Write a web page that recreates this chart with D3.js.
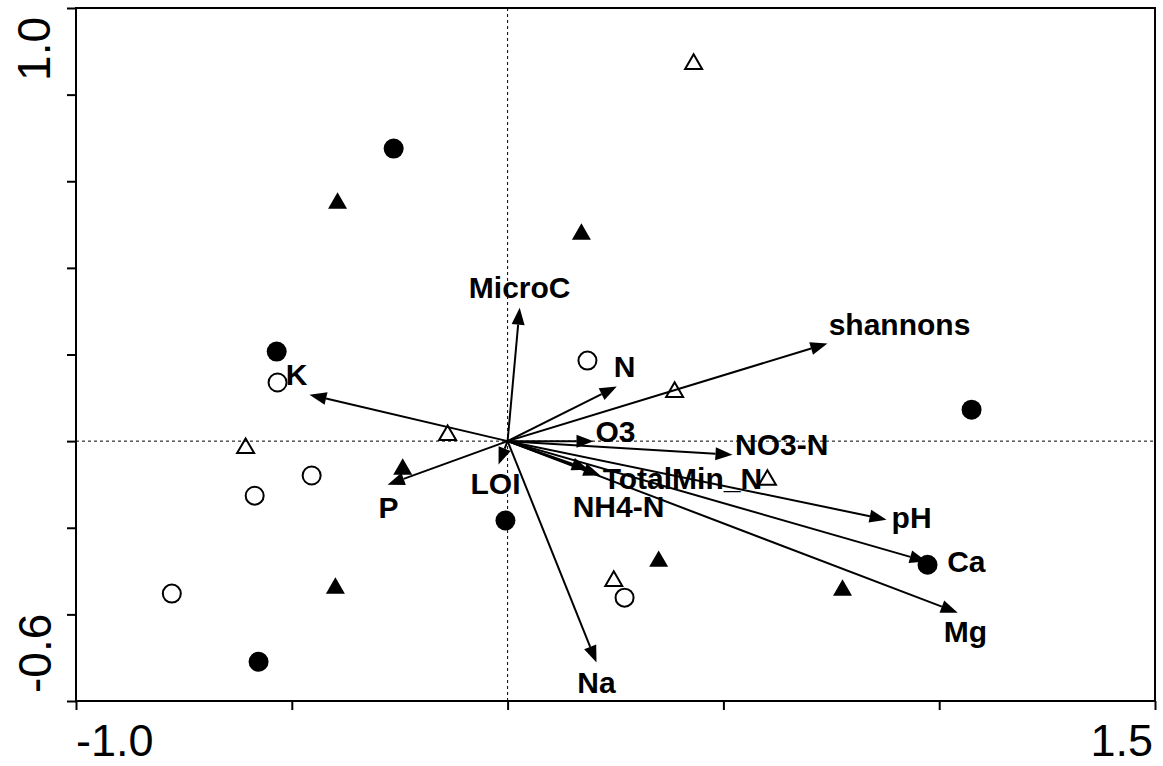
<!DOCTYPE html>
<html>
<head>
<meta charset="utf-8">
<script src="https://cdn.jsdelivr.net/npm/d3@7"></script>
<style>
  body { margin: 0; background: #fff; }
  svg { display: block; }
</style>
</head>
<body>
<div id="chart"></div>
<script>
// ordination biplot: site scores + environmental arrows

const width = 1163;
const height = 766;
const margin = {left: 76, right: 8, top: 8, bottom: 65};

// axis ticks and the two end labels on each axis
const xTickValues = [-1, -0.5, 0, 0.5, 1, 1.5];
const yTickValues = [-0.9, -0.6, -0.3, 0, 0.3, 0.6, 0.9, 1.2, 1.5];
const xEndLabels = ["-1.0", "1.5"];
const yEndLabels = ["-0.6", "1.0"];

// site scores (type: fc = filled circle, oc = open circle, ft = filled triangle, ot = open triangle)
const siteType = ["fc", "fc", "fc", "fc", "fc", "fc",
                  "oc", "oc", "oc", "oc", "oc", "oc",
                  "ft", "ft", "ft", "ft", "ft", "ft",
                  "ot", "ot", "ot", "ot", "ot", "ot"];
const siteX = [-0.264, -0.535, 1.075, -0.005, 0.973, -0.577,
                0.185, -0.533, -0.454, -0.586, -0.778, 0.271,
               -0.394, 0.171, -0.243, -0.399, 0.350, 0.776,
                0.431, 0.387, -0.139, -0.607, 0.602, 0.246];
const siteY = [1.013, 0.310, 0.109, -0.275, -0.428, -0.764,
               0.279, 0.203, -0.119, -0.189, -0.528, -0.542,
               0.833, 0.726, -0.088, -0.500, -0.407, -0.507,
               1.314, 0.178, 0.029, -0.016, -0.126, -0.476];

// environmental vectors (arrow tips) and where their names sit
const envNames = ["MicroC", "shannons", "N", "K", "O3", "NO3-N", "TotalMin_N",
                  "NH4-N", "LOI", "P", "pH", "Ca", "Mg", "Na"];
const envX = [0.028, 0.741, 0.253, -0.459, 0.199, 0.521, 0.215,
              0.188, -0.021, -0.278, 0.878, 0.971, 1.043, 0.206];
const envY = [0.462, 0.338, 0.189, 0.161, 0.0, -0.047, -0.119,
              -0.099, -0.081, -0.151, -0.272, -0.417, -0.594, -0.767];
const labelX = [0.028, 0.908, 0.271, -0.489, 0.250, 0.635, 0.405,
                0.257, -0.028, -0.276, 0.936, 1.063, 1.061, 0.206];
const labelY = [0.532, 0.403, 0.258, 0.230, 0.033, -0.012, -0.130,
                -0.227, -0.147, -0.230, -0.265, -0.417, -0.660, -0.836];

const svg = d3.select("#chart")
  .append("svg")
  .attr("width", width)
  .attr("height", height)
  .style("background", "#fff");

const x = d3.scaleLinear()
  .domain([-1, 1.5])
  .range([margin.left, width - margin.right]);

const y = d3.scaleLinear()
  .domain([-0.9, 1.5])
  .range([height - margin.bottom, margin.top]);

const font = "'Liberation Sans', Arial, Helvetica, sans-serif";

// zero lines
svg.append("line")
  .attr("x1", x(0)).attr("x2", x(0))
  .attr("y1", y(1.5)).attr("y2", y(-0.9))
  .attr("stroke", "#000").attr("stroke-width", 1)
  .attr("stroke-dasharray", "3,3");

svg.append("line")
  .attr("x1", x(-1)).attr("x2", x(1.5))
  .attr("y1", y(0)).attr("y2", y(0))
  .attr("stroke", "#000").attr("stroke-width", 1)
  .attr("stroke-dasharray", "3,3");

// axes (ticks only, the box is drawn separately)
const xAxis = svg.append("g")
  .attr("transform", `translate(0,${y(-0.9)})`)
  .call(d3.axisBottom(x).tickValues(xTickValues).tickSize(9).tickSizeOuter(0).tickFormat(""));
xAxis.select(".domain").remove();
xAxis.selectAll("line").attr("stroke-width", 2);

const yAxis = svg.append("g")
  .attr("transform", `translate(${x(-1)},0)`)
  .call(d3.axisLeft(y).tickValues(yTickValues).tickSize(9).tickSizeOuter(0).tickFormat(""));
yAxis.select(".domain").remove();
yAxis.selectAll("line").attr("stroke-width", 2);

svg.append("rect")
  .attr("x", x(-1))
  .attr("y", y(1.5))
  .attr("width", x(1.5) - x(-1))
  .attr("height", y(-0.9) - y(1.5))
  .attr("fill", "none")
  .attr("stroke", "#000")
  .attr("stroke-width", 2);

// end labels
svg.append("text")
  .attr("x", x(-1)).attr("y", 756)
  .attr("text-anchor", "start")
  .attr("font-family", font).attr("font-size", 45)
  .text(xEndLabels[0]);
svg.append("text")
  .attr("x", x(1.5) - 2).attr("y", 756)
  .attr("text-anchor", "end")
  .attr("font-family", font).attr("font-size", 45)
  .text(xEndLabels[1]);

svg.append("text")
  .attr("transform", `translate(51,${y(-0.9) - 8}) rotate(-90)`)
  .attr("text-anchor", "start")
  .attr("font-family", font).attr("font-size", 46)
  .text(yEndLabels[0]);
svg.append("text")
  .attr("transform", `translate(50,${y(1.5) + 9}) rotate(-90)`)
  .attr("text-anchor", "end")
  .attr("font-family", font).attr("font-size", 46)
  .text(yEndLabels[1]);

// sites
const sites = siteType.map((t, i) => ({type: t, x: siteX[i], y: siteY[i]}));

const triPath = function(s) {
  const h = s * Math.sqrt(3) / 2;
  return `M0,${-h / 2}L${s / 2},${h / 2}L${-s / 2},${h / 2}Z`;
};

const siteG = svg.append("g");

siteG.selectAll(".circ")
  .data(sites.filter(d => d.type === "fc" || d.type === "oc"))
  .enter()
  .append("circle")
    .attr("cx", d => x(d.x))
    .attr("cy", d => y(d.y))
    .attr("r", d => d.type === "fc" ? 10 : 9)
    .attr("fill", d => d.type === "fc" ? "#000" : "none")
    .attr("stroke", "#000")
    .attr("stroke-width", d => d.type === "fc" ? 0 : 2);

siteG.selectAll(".tri")
  .data(sites.filter(d => d.type === "ft" || d.type === "ot"))
  .enter()
  .append("path")
    .attr("transform", d => `translate(${x(d.x)},${y(d.y)})`)
    .attr("d", d => d.type === "ft" ? triPath(19) : triPath(17))
    .attr("fill", d => d.type === "ft" ? "#000" : "none")
    .attr("stroke", "#000")
    .attr("stroke-width", d => d.type === "ft" ? 0 : 2)
    .attr("stroke-linejoin", "miter");

// environmental arrows
const env = envNames.map((n, i) => ({name: n, x: envX[i], y: envY[i], lx: labelX[i], ly: labelY[i]}));
const headLen = 17;
const headHalf = 6.5;

const arrowG = svg.append("g");

env.forEach(function(d) {
  const ox = x(0), oy = y(0);
  const tx = x(d.x), ty = y(d.y);
  const len = Math.hypot(tx - ox, ty - oy);
  const ux = (tx - ox) / len, uy = (ty - oy) / len;
  const bx = tx - ux * headLen, by = ty - uy * headLen;
  const nx = -uy, ny = ux;

  arrowG.append("line")
    .attr("x1", ox).attr("y1", oy)
    .attr("x2", bx).attr("y2", by)
    .attr("stroke", "#000")
    .attr("stroke-width", 2);

  arrowG.append("polygon")
    .attr("points", [
      [tx, ty],
      [bx + nx * headHalf, by + ny * headHalf],
      [bx - nx * headHalf, by - ny * headHalf]
    ].map(p => p.join(",")).join(" "))
    .attr("fill", "#000");
});

svg.append("g")
  .selectAll("text")
  .data(env)
  .enter()
  .append("text")
    .attr("x", d => x(d.lx))
    .attr("y", d => y(d.ly))
    .attr("dy", "0.35em")
    .attr("text-anchor", "middle")
    .attr("font-family", font)
    .attr("font-weight", "bold")
    .attr("font-size", 30)
    .text(d => d.name);
</script>
</body>
</html>
